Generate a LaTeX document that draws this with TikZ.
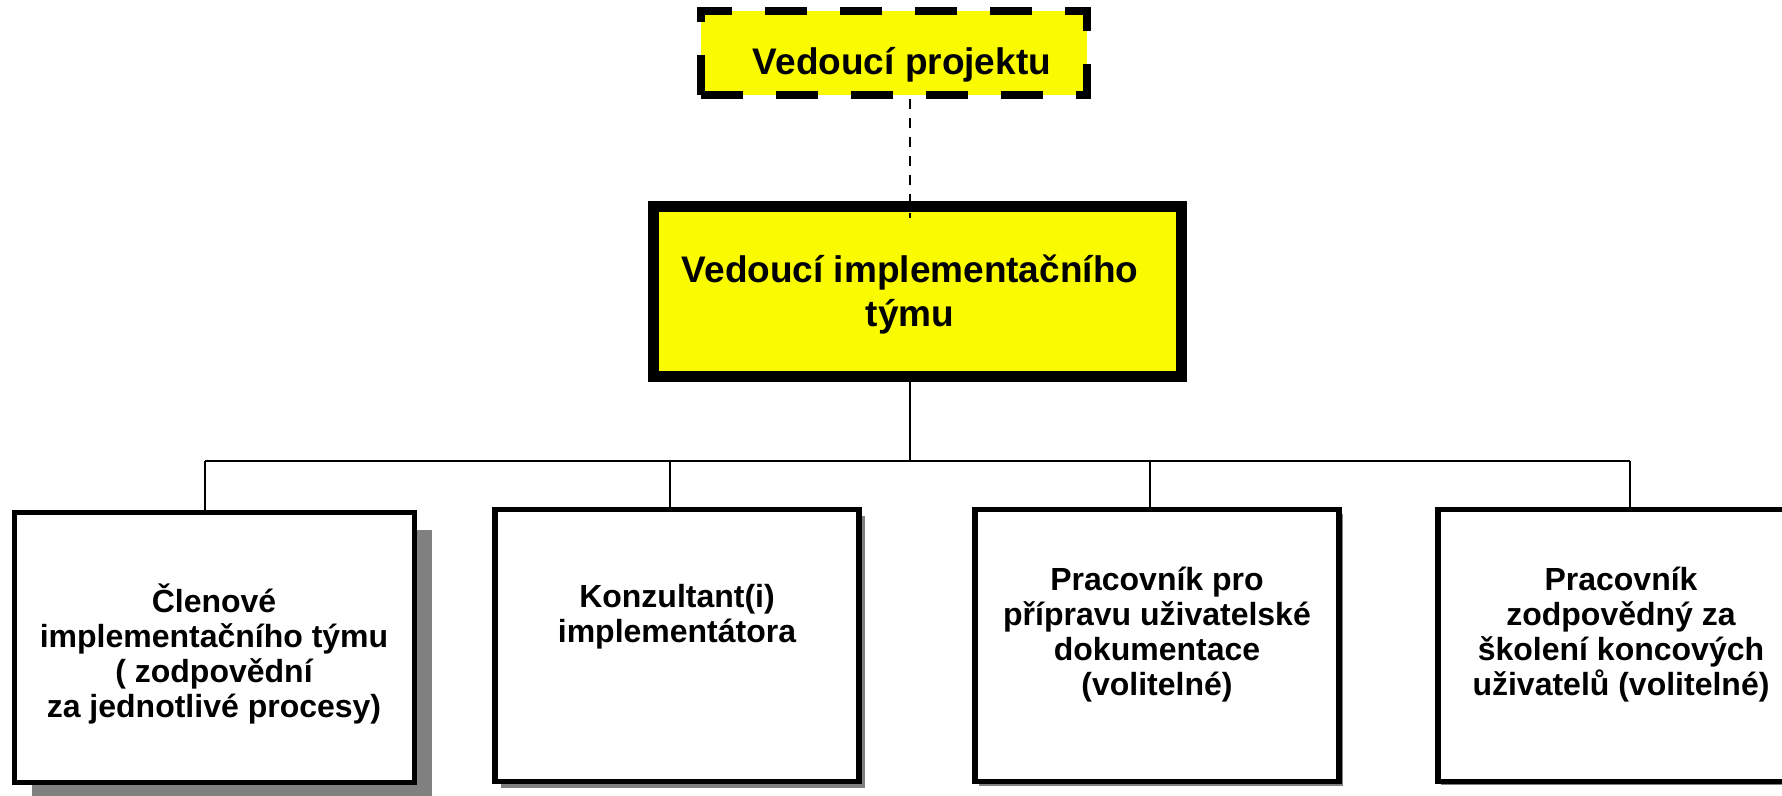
\documentclass[tikz,border=0pt]{standalone}
\usepackage{fontspec}
\setmainfont{Liberation Sans}
\usetikzlibrary{shadows}
\definecolor{zluta}{RGB}{250,250,0}
\definecolor{stin}{RGB}{128,128,128}

\begin{document}
\begin{tikzpicture}[x=0.5pt,y=-0.5pt,
  box/.style={draw,rectangle,inner sep=0pt},
  clen/.style={box,fill=white,line width=2.8pt,minimum width=182pt,minimum height=136pt},
  popis/.style={font=\bfseries\fontsize{16}{17.5}\selectfont,align=center,anchor=base},
  nadpis/.style={font=\bfseries\fontsize{18.5}{22}\selectfont,align=center,anchor=base},
  spoj/.style={line width=1.2pt},
  stinx/.style={drop shadow={shadow xshift=#1,shadow yshift=-#1,fill=stin,opacity=1}}]
\fill[white] (0,0) rectangle (1782,796);
\useasboundingbox (0,0) rectangle (1782,796);

% vedouci
\node[box,fill=zluta,line width=4pt,dash pattern=on 21pt off 16.5pt,minimum width=193pt,minimum height=42pt] (pm) at (894,53) {};
\node[nadpis] (tpm) at (902,75) {Vedoucí projektu};
\node[box,fill=zluta,line width=5.5pt,minimum width=264pt,minimum height=85pt] (vit) at (917.5,291.5) {};
\node[nadpis] (tvit) at (910,327) {Vedoucí implementačního\\týmu};

% clenove tymu
\node[clen,minimum width=200pt,minimum height=135pt,stinx=8.5pt] (c1) at (214.5,647.5) {};
\node[clen,stinx=3pt] (c2) at (677,645.5) {};
\node[clen,stinx=2pt] (c3) at (1157,645.5) {};
\node[clen,stinx=1.5pt] (c4) at (1620,645.5) {};
\node[popis] (t1) at (214,717) {Členové\\implementačního týmu\\( zodpovědní\\za jednotlivé procesy)};
\node[popis] (t2) at (677,642) {Konzultant(i)\\implementátora};
\node[popis] (t3) at (1157,695) {Pracovník pro\\přípravu uživatelské\\dokumentace\\(volitelné)};
\node[popis] (t4) at (1621,695) {Pracovník\\zodpovědný za\\školení koncových\\uživatelů (volitelné)};

% spoje
\coordinate (osa) at (910,461);
\coordinate (konec) at (910,218);
\coordinate (b1) at (205,461);
\coordinate (b2) at (670,461);
\coordinate (b3) at (1150,461);
\coordinate (b4) at (1630,461);
\draw[spoj,dash pattern=on 5pt off 4.5pt] (pm.south -| osa) -- (konec);
\draw[spoj] (vit.south -| osa) -- (osa);
\draw[spoj] (b1) -- (b4);
\draw[spoj] (b1) -- (b1 |- c1.north);
\draw[spoj] (b2) -- (b2 |- c2.north);
\draw[spoj] (b3) -- (b3 |- c3.north);
\draw[spoj] (b4) -- (b4 |- c4.north);
\end{tikzpicture}
\end{document}
